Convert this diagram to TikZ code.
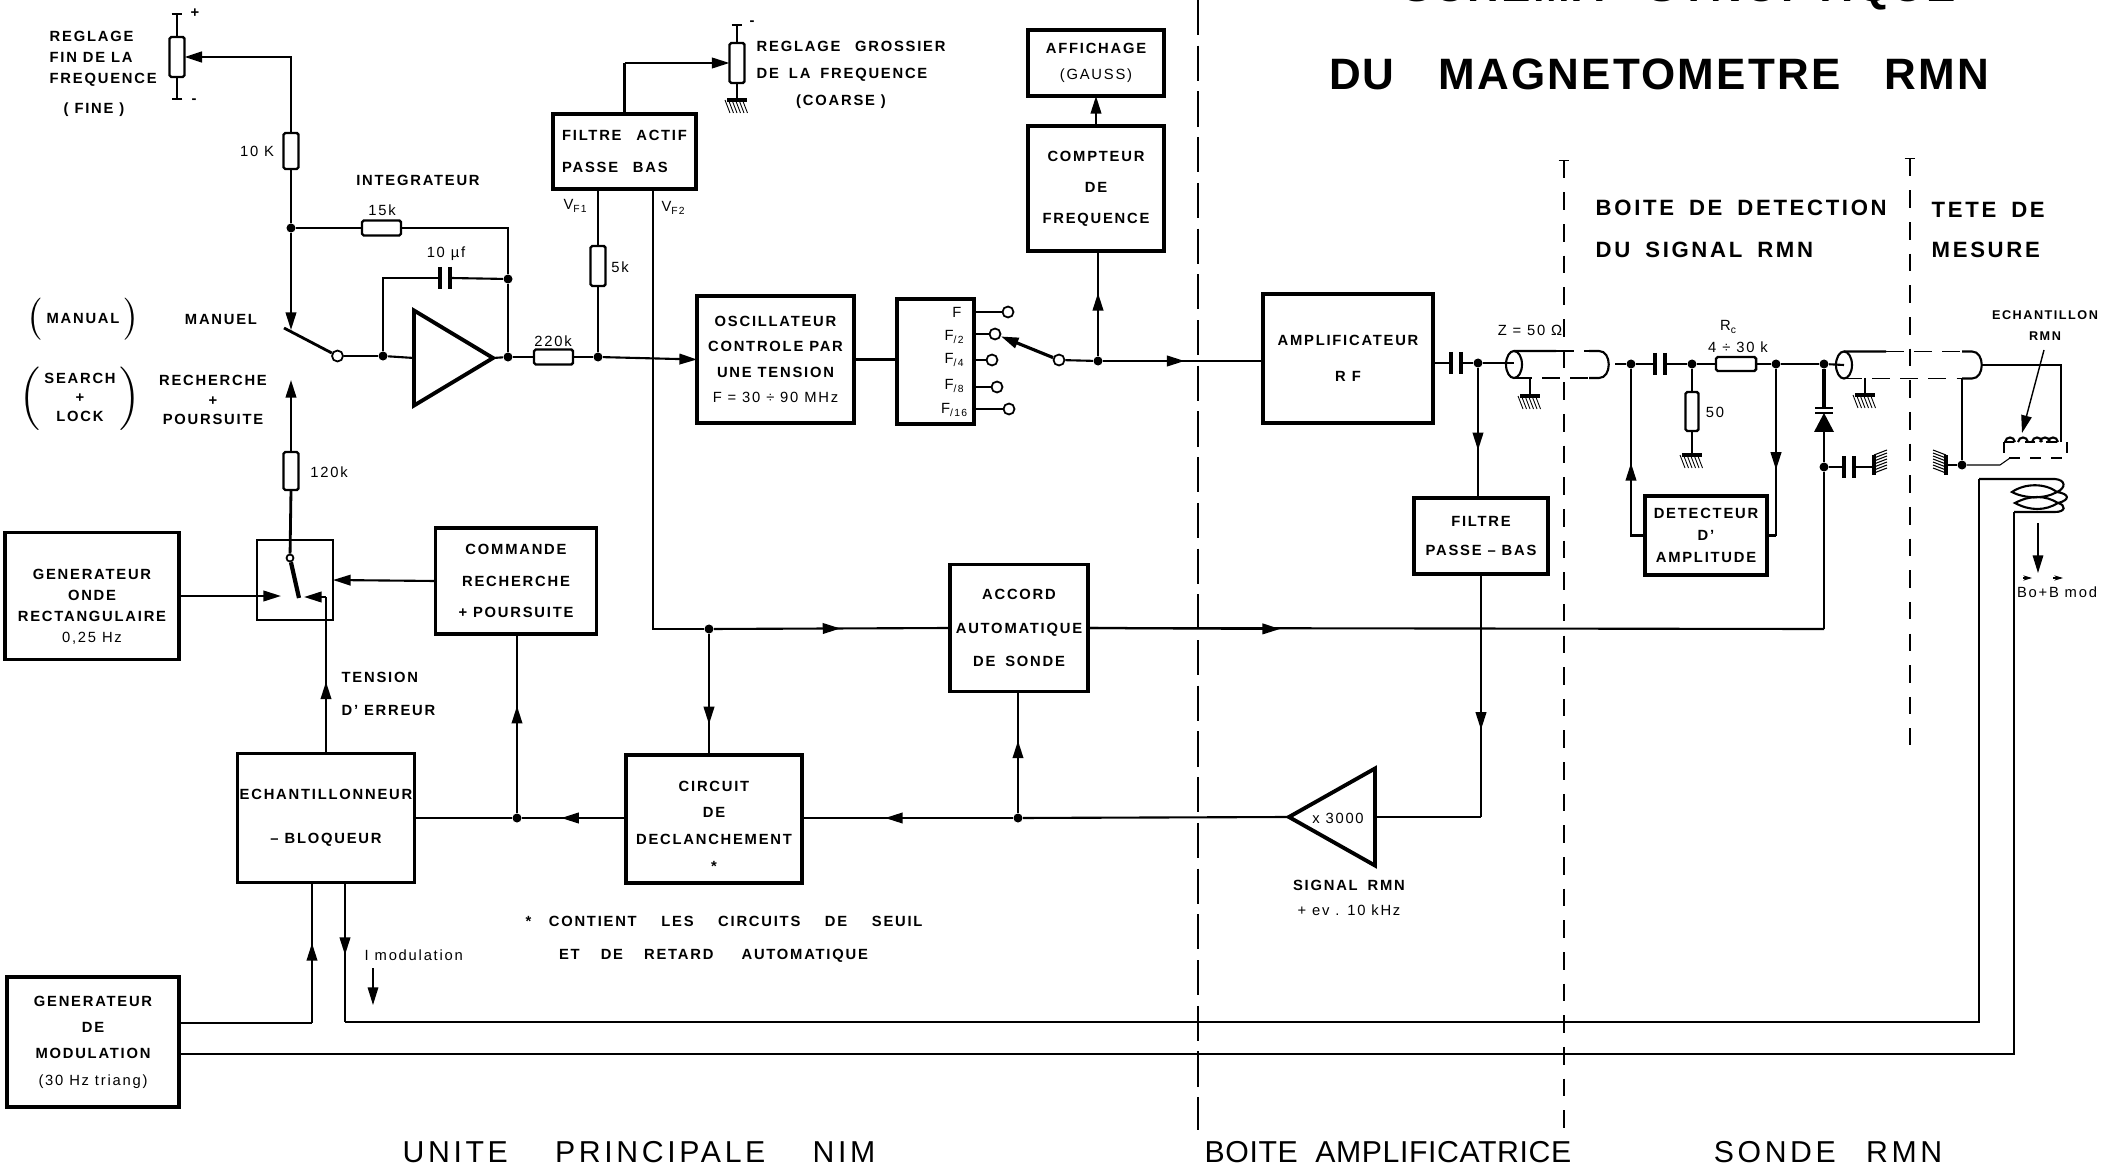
\documentclass[tikz,border=0pt]{standalone}
\usepackage{fontspec}
\setmainfont{Liberation Sans}[LetterSpace=12]
\usetikzlibrary{arrows.meta,shapes.geometric,decorations.markings}
\newcommand{\ft}[1]{\fontsize{4.2}{#1}\selectfont}
\newcommand{\gnd}[2]{\draw[line width=1pt] (#1-10,#2)--(#1+10,#2);
  \foreach \i in {-10,-6.5,...,10} \draw[line width=.25pt] (#1+\i-2,#2)--(#1+\i+3,#2+13);}
\newcommand{\gndside}[3]{\draw[line width=1pt] (#1,#2-10)--(#1,#2+10);
  \foreach \i in {-10,-7,...,10} \draw[line width=.3pt] (#1,#2+\i)--(#1+#3,#2+\i-5);}
\newcommand{\caph}[3]{\coordinate (#1l) at (#2-6,#3); \coordinate (#1r) at (#2+6,#3);
  \draw[line width=1.2pt] (#2-5,#3-11)--(#2-5,#3+11) (#2+5,#3-11)--(#2+5,#3+11);}
\newcommand{\coax}[3]{\draw[wr] (#1,#3) ellipse [x radius=8,y radius=13.5];
  \draw[wr] (#1,#3-13.5)--(#1+42,#3-13.5) (#2-20,#3-13.5)--(#2-10,#3-13.5)
    .. controls (#2+3,#3-13.5) and (#2+3,#3+13.5) .. (#2-10,#3+13.5)--(#2-20,#3+13.5);
  \draw[line width=.45pt,dash pattern=on 5pt off 3pt] (#1+42,#3-13.5)--(#2-20,#3-13.5) (#1,#3+13.5)--(#2-20,#3+13.5);}
\tikzset{mid/.style={postaction={decorate,decoration={markings,mark=at position #1 with {\arrow{>}}}}}}
\begin{document}
\begin{tikzpicture}[x=0.01cm,y=-0.01cm,>={Stealth[length=5pt,width=3pt,inset=0pt]},font=\ft{8}\bfseries]
\tikzstyle{wr}=[line width=.6pt]
\tikzstyle{bl}=[draw,line width=1.1pt,align=center,inner sep=0,outer sep=0]
\tikzstyle{res}=[draw,line width=.7pt,rounded corners=.5pt,inner sep=0,outer sep=0]
\tikzstyle{jn}=[circle,fill,inner sep=0,minimum size=.09cm]
\tikzstyle{ot}=[circle,draw,line width=.5pt,fill=white,inner sep=0,minimum size=.11cm]
\tikzstyle{val}=[font=\ft{8}\mdseries]
\tikzstyle{big}=[font=\fontsize{8.6}{10}\selectfont]
\tikzstyle{mdt}=[inner sep=0,font=\fontsize{6.3}{7}\selectfont\bfseries]
\tikzstyle{sep}=[line width=.3pt,dash pattern=on 5pt off 4pt]
\useasboundingbox (0,0) rectangle (2111,1176);
% titles
\node[font=\fontsize{12.5}{14}\selectfont\bfseries\addfontfeature{LetterSpace=5}] (ti1) at (1679,-10) {SCHEMA\quad SYNOPTIQUE};
\node[font=\fontsize{12.5}{14}\selectfont\bfseries\addfontfeature{LetterSpace=5}] (ti2) at (1659,74) {DU\quad MAGNETOMETRE\quad RMN};
\node[big] (un1) at (639,1152) {UNITE\quad\, PRINCIPALE\quad\, NIM};
\node[big,font=\fontsize{8.6}{10}\selectfont\addfontfeature{LetterSpace=2}] (un2) at (1388,1152) {BOITE\; AMPLIFICATRICE};
\node[big] (un3) at (1828,1152) {SONDE\quad RMN};
\node[mdt,anchor=west] (bo1) at (1595,208) {BOITE\; DE\; DETECTION};
\node[mdt,anchor=west] (bo2) at (1595,250) {DU\; SIGNAL\; RMN};
\node[mdt,anchor=west] (te1) at (1931,210) {TETE\; DE};
\node[mdt,anchor=west] (te2) at (1931,250) {MESURE};
% separators
\draw[line width=.5pt,dash pattern=on 10pt off 3pt] (1198,0)--(1198,1130);
\draw[sep,{Bar[width=3pt]}-] (1564,160)--(1564,1131);
\draw[sep,{Bar[width=3pt]}-] (1910,158)--(1910,745);
% blocks
\node[bl,minimum width=1.74cm,minimum height=1.27cm,font=\ft{6}\bfseries] (gen) at (92,596) {\rule{0pt}{9.2pt}GENERATEUR\\ONDE\\RECTANGULAIRE\\\mdseries 0,25 Hz};
\node[bl,minimum width=1.72cm,minimum height=1.30cm,font=\ft{7.5}\bfseries] (mod) at (93,1042) {GENERATEUR\\DE\\MODULATION\\\mdseries (30 Hz triang)};
\node[bl,line width=.6pt,minimum width=.76cm,minimum height=.80cm] (swb) at (295,580) {};
\node[bl,minimum width=1.61cm,minimum height=1.06cm,font=\ft{9}\bfseries] (com) at (516,581) {COMMANDE\\RECHERCHE\\+ POURSUITE};
\node[bl,minimum width=1.77cm,minimum height=1.29cm,font=\ft{12.5}\bfseries] (ech) at (326,818) {ECHANTILLONNEUR\\-- BLOQUEUR};
\node[bl,minimum width=1.76cm,minimum height=1.28cm,font=\ft{7.6}\bfseries] (cir) at (714,819) {\rule{0pt}{7pt}CIRCUIT\\DE\\DECLANCHEMENT\\*};
\node[bl,minimum width=1.38cm,minimum height=1.27cm,font=\ft{9.5}\bfseries] (acc) at (1019,628) {ACCORD\\AUTOMATIQUE\\DE\; SONDE};
\node[bl,minimum width=1.43cm,minimum height=.75cm,align=left,font=\ft{9.3}\bfseries] (fil) at (624.5,151.5) {FILTRE\quad ACTIF\\PASSE\quad BAS};
\node[bl,minimum width=1.57cm,minimum height=1.27cm,font=\ft{7.2}\bfseries] (osc) at (775.5,359.5) {OSCILLATEUR\\CONTROLE PAR\\UNE TENSION\\\mdseries F = 30 ÷ 90 MHz};
\node[bl,minimum width=.77cm,minimum height=1.25cm] (div) at (935.5,361.5) {};
\node[bl,minimum width=1.36cm,minimum height=.66cm,font=\ft{7.6}\bfseries] (aff) at (1096,63) {AFFICHAGE\\\mdseries(GAUSS)};
\node[bl,minimum width=1.36cm,minimum height=1.25cm,font=\ft{8.8}\bfseries] (cpt) at (1096,188.5) {COMPTEUR\\DE\\FREQUENCE};
\node[bl,minimum width=1.70cm,minimum height=1.29cm,font=\ft{10.2}\bfseries] (rfa) at (1348,358.5) {AMPLIFICATEUR\\R F};
\node[bl,minimum width=1.34cm,minimum height=.76cm,font=\ft{8.2}\bfseries] (pbs) at (1481,536) {FILTRE\\PASSE -- BAS};
\node[bl,minimum width=1.22cm,minimum height=.79cm,font=\ft{6.2}\bfseries] (det) at (1706,535.5) {DETECTEUR\\D'\\AMPLITUDE};
\node[isosceles triangle,isosceles triangle stretches,shape border rotate=0,draw,line width=1.1pt,inner sep=0,outer sep=0,minimum width=.95cm,minimum height=.79cm,anchor=lower side] (amp) at (414,358) {};
\node[isosceles triangle,isosceles triangle stretches,shape border rotate=180,draw,line width=1.1pt,inner sep=0,outer sep=0,minimum width=.97cm,minimum height=.86cm,anchor=lower side] (tri) at (1375,817) {};
\node[val] (x3k) at (1338,818) {x 3000};
% resistors
\node[res,minimum width=.15cm,minimum height=.40cm] (pot1) at (177,57) {};
\node[res,minimum width=.15cm,minimum height=.40cm] (pot2) at (737,63) {};
\node[res,minimum width=.15cm,minimum height=.36cm] (r10) at (291,151) {};
\node[res,minimum width=.39cm,minimum height=.15cm] (r15) at (381.5,228) {};
\node[res,minimum width=.39cm,minimum height=.15cm] (r220) at (553.5,357) {};
\node[res,minimum width=.15cm,minimum height=.40cm] (r5) at (598,266) {};
\node[res,minimum width=.15cm,minimum height=.38cm] (r120) at (291,471) {};
\node[res,minimum width=.40cm,minimum height=.14cm] (rc) at (1736,364) {};
\node[res,minimum width=.13cm,minimum height=.39cm] (r50) at (1692,411.5) {};
% junctions
\node[jn] (j1) at (291,228) {};
\node[jn] (j2) at (383,356) {};
\node[jn] (j3) at (508,279) {};
\node[jn] (j4) at (508,357) {};
\node[jn] (j5) at (598,357) {};
\node[jn] (j6) at (709,629) {};
\node[jn] (j7) at (517,818) {};
\node[jn] (j8) at (1018,818) {};
\node[jn] (j9) at (1098,361) {};
\node[jn] (j10) at (1478,363) {};
\node[jn] (j11) at (1631,364) {};
\node[jn] (j12) at (1692,364) {};
\node[jn] (j13) at (1776,364) {};
\node[jn] (j14) at (1824,364) {};
\node[jn] (j15) at (1824,467) {};
\node[jn] (j16) at (1962,465) {};
% switches and outputs
\node[ot] (swc) at (337.5,356) {};
\node[ot,minimum size=.07cm] (swo) at (290,558) {};
\node[ot] (o1) at (1008,312) {};
\node[ot] (o2) at (995,334) {};
\node[ot] (o3) at (992,360) {};
\node[ot] (o4) at (997,387) {};
\node[ot] (o5) at (1009,409) {};
\node[ot] (sel) at (1059,360) {};
\coordinate (swa) at (291,330); \coordinate (swb1) at (284,328);
\coordinate (swb2) at (299,598); \coordinate (ein) at (281,597); \coordinate (ein2) at (304,597);
\coordinate (up) at (291,380); \coordinate (vf2) at (653,189);
\coordinate (p1t) at (177,13); \coordinate (p1b) at (177,100);
\coordinate (p2t) at (737,24); \coordinate (p2b) at (737,100);
\coordinate (md1) at (179,1023); \coordinate (md2) at (179,1054);
\coordinate (k1) at (312,1023); \coordinate (e1) at (312,883);
\coordinate (k2) at (345,1022); \coordinate (e2) at (345,883);
\coordinate (k3) at (1979,1022); \coordinate (k4) at (1979,479);
\coordinate (k5) at (2014,1054); \coordinate (k6) at (2014,512);
\coordinate (im1) at (373,968); \coordinate (im2) at (373,1005);
% integrator
\draw[wr,-{Bar[width=3pt]}] (pot1.north)--(p1t); \draw[wr,-{Bar[width=3pt]}] (pot1.south)--(p1b);
\draw[wr,line width=.8pt,->] (r10.north) |- (pot1.east);
\draw[wr] (j1)--(r10.south); \draw[wr,->] (j1)--(swa);
\draw[wr,line width=.8pt] (swb1)--(swc);
\draw[wr] (swc)--(j2); \draw[wr] (j2)--(amp.lower side);
\draw[wr] (amp.apex)--(j4); \draw[wr] (j4)--(r220.west); \draw[wr] (r220.east)--(j5); \draw[wr,->] (j5)--(osc.west);
\draw[wr] (j1)--(r15.west); \draw[wr] (r15.east) -| (j3); \draw[wr] (j3)--(j4);
\caph{c10}{445}{278}
\draw[wr] (j2) |- (c10l); \draw[wr] (c10r)--(j3);
\draw[wr] (j5)--(r5.south); \draw[wr] (r5.north)--(r5.north |- fil.south);
\draw[wr] (fil.north) |- (fil.north |- pot2.west); \draw[wr,->] (fil.north |- pot2.west)--(pot2.west);
\draw[wr,-{Bar[width=3pt]}] (pot2.north)--(p2t); \draw[wr] (pot2.south)--(p2b); \gnd{737}{100}
% search and lock
\draw[wr,->] (r120.north)--(up); \draw[wr,line width=.8pt] (r120.south)--(swo); \draw[line width=1.2pt] (swo)--(swb2);
\draw[wr,->] (gen.east)--(gen.east -| ein); \draw[wr,->] (com.west)--(swb.east);
\draw[wr,mid=.459] (ech.north)--(ech.north |- ein2); \draw[wr,->] (ech.north |- ein2)--(ein2);
\draw[wr,mid=.598] (j7)--(j7 |- com.south); \draw[wr] (j7)--(ech.east); \draw[wr,mid=.624] (cir.west |- j7)--(j7);
\draw[wr] (vf2) |- (j6); \draw[wr,mid=.535] (j6)--(acc.west);
\draw[wr,mid=.746] (j6)--(j6 |- cir.north);
\draw[wr,mid=.606] (j8)--(cir.east |- j8); \draw[wr,mid=.595] (j8)--(j8 |- acc.south);
\draw[wr] (tri.apex)--(j8);
\draw[wr,mid=.571] (k1)--(e1); \draw[wr] (md1)--(k1);
\draw[wr,mid=.518] (e2)--(k2); \draw[wr] (k2)--(k3)--(k4);
\draw[wr] (md2)--(md2 -| k5)--(k6);
\draw[line width=.4pt,->] (im1)--(im2);
% oscillator to amplifier
\draw[wr] (osc.east)--(osc.east -| div.west);
\foreach \o in {o1,o2,o3,o4,o5} \draw[wr] (\o.west -| div.east)--(\o);
\draw[wr,line width=.9pt,->] (sel)--(o2);
\draw[wr] (sel)--(j9); \draw[wr,mid=.509] (j9)--(rfa.west |- j9);
\draw[wr,mid=.6] (j9)--(j9 |- cpt.south); \draw[wr,->] (cpt.north)--(aff.south);
% probe line
\caph{c1}{1456}{363}
\coordinate (rf1) at (1433,363); \coordinate (cx1) at (1514,363); \coordinate (cx1e) at (1615,364);
\coordinate (cx2) at (1844,365); \coordinate (cx2e) at (1982,365);
\coordinate (g1) at (1530,378); \coordinate (g2) at (1865,378); \coordinate (g3) at (1962,378);
\draw[wr] (rf1)--(c1l); \draw[wr] (c1r)--(j10); \draw[wr] (j10)--(cx1);
\coax{1514}{1609}{364.5}
\draw[wr] (g1)--(1530,396); \gnd{1530}{396}
\draw[wr,mid=.632] (j10)--(j10 |- pbs.north);
\draw[wr,mid=.641] (pbs.south)--(pbs.south |- tri.east);
\draw[wr] (pbs.south |- tri.east)--(tri.east |- tri.lower side);
\caph{c2}{1660}{364}
\draw[wr] (cx1e)--(j11); \draw[wr] (j11)--(c2l); \draw[wr] (c2r)--(j12); \draw[wr] (j12)--(rc.west); \draw[wr] (rc.east)--(j13); \draw[wr] (j13)--(j14); \draw[wr] (j14)--(cx2);
\draw[wr] (j12)--(r50.north); \draw[wr] (r50.south)--(1692,455); \gnd{1692}{455}
\draw[wr,mid=.605] (j13)--(j13 |- det.east); \draw[wr] (j13 |- det.east)--(det.east);
\draw[wr] (det.west)-|(j11);
\draw[wr,->] (j11 |- det.west)--(1631,463);
\coax{1844}{1982}{365}
\draw[wr] (g2)--(1865,395); \gnd{1865}{395}
% varicap
\draw[wr,line width=.9pt] (j14)--(1824,408);
\draw[wr] (1815,408)--(1833,408) (1815,413)--(1833,413);
\fill (1824,413)--(1814,432)--(1834,432)--cycle;
\draw[wr,line width=.8pt] (1824,432)--(j15); \draw[wr,line width=.8pt] (j15)--(1824,629);
\draw[wr] (acc.east)--(1824,629);
\draw[wr,->] (acc.east)--(1280,629);
\caph{c3}{1849}{467}
\draw[wr] (j15)--(c3l); \draw[wr] (c3r)--(1874,467); \gndside{1874}{465}{13}
% sample and coils
\draw[wr] (cx2e)--(2061,365)--(2061,442);
\draw[wr] (g3)--(j16); \gndside{1946}{465}{-13}
\draw[line width=.3pt] (1946,465)--(j16);
\draw[line width=.3pt] (j16)--(2000,465)--(2010,458);
\draw[line width=.3pt,dashed] (2004,442) rectangle (2067,458);
\foreach \a in {2010,2023,2037,2045,2053} \draw[wr] (\a-5,442) .. controls (\a-4,436) and (\a+4,436) .. (\a+5,442);
\draw[wr] (k4)--(2055,479) .. controls (2066,480) and (2066,488) .. (2057,492)
  .. controls (2070,494) and (2070,500) .. (2058,503) .. controls (2066,505) and (2066,512) .. (2055,512)--(k6);
\draw[wr] (2012,492) .. controls (2025,483) and (2045,483) .. (2057,492) .. controls (2045,499) and (2025,499) .. cycle;
\draw[wr] (2015,503) .. controls (2030,495) and (2045,495) .. (2058,503) .. controls (2045,511) and (2030,511) .. cycle;
\coordinate (bo) at (2038,523); \coordinate (bo2) at (2038,573);
\draw[line width=.4pt,->] (bo)--(bo2);
\node[font=\ft{8}\mdseries] (bm) at (2057,592) {Bo+B mod};
\draw[line width=.3pt,-{Stealth[length=2.5pt,width=1.5pt]}] (2023,578)--(2032,578);
\draw[line width=.3pt,-{Stealth[length=2.5pt,width=1.5pt]}] (2053,578)--(2063,578);
% labels
\node[font=\ft{8}\bfseries] (lp) at (195,13) {+};
\node (lm) at (194,101) {-};
\node (lm2) at (752,23) {-};
\node[anchor=west,inner sep=0,font=\ft{6}\bfseries,align=left] (rf) at (49,59) {REGLAGE\\FIN DE LA\\FREQUENCE};
\node (rff) at (94,110) {( FINE )};
\node[anchor=west,inner sep=0,align=left,font=\ft{7.6}\bfseries] (rg) at (756,61) {REGLAGE\quad GROSSIER\\DE\; LA\; FREQUENCE};
\node (rgc) at (841,102) {(COARSE )};
\node[val] (l10) at (257,151) {10 K};
\node[val] (l15) at (382,210) {15k};
\node (lint) at (418,180) {INTEGRATEUR};
\node[val] (lc10) at (446,254) {10 µf};
\node[val] (l220) at (553,341) {220k};
\node[val] (l5) at (620,267) {5k};
\node[val] (l120) at (329,472) {120k};
\node[val] (lv1) at (576,206) {V\textsubscript{F1}};
\node[val] (lv2) at (674,208) {V\textsubscript{F2}};
\node (lma) at (83,319) {$\left(\rule{0pt}{.2cm}\right.$MANUAL$\left.\rule{0pt}{.2cm}\right)$};
\node (lmn) at (221,319) {MANUEL};
\node[font=\ft{5.4}\bfseries] (lse) at (80,399) {$\left(\rule{0pt}{.32cm}\right.$\begin{tabular}{@{}c@{}}SEARCH\\+\\LOCK\end{tabular}$\left.\rule{0pt}{.32cm}\right)$};
\node[font=\ft{5.5}\bfseries,align=center] (lre) at (213,400) {RECHERCHE\\+\\POURSUITE};
\node[anchor=west,inner sep=0,align=left,font=\ft{9.3}\bfseries] (lte) at (341,694) {TENSION\\D' ERREUR};
\node[val,anchor=west,inner sep=0] (lim) at (364,955) {I modulation};
\node[font=\ft{9.5}\bfseries,align=center] (lco) at (724,939) {*\hspace{5pt}CONTIENT\hspace{7pt}LES\hspace{7pt}CIRCUITS\hspace{7pt}DE\hspace{7pt}SEUIL\\ET\hspace{6pt}DE\hspace{6pt}RETARD\hspace{8pt}AUTOMATIQUE\hspace*{6pt}};
\node (lsi) at (1349,885) {SIGNAL\; RMN};
\node[val] (lev) at (1349,910) {+ ev . 10 kHz};
\node[val] (lf1) at (957,312) {F};
\node[val] (lf2) at (955,337) {F\textsubscript{/2}};
\node[val] (lf3) at (955,360) {F\textsubscript{/4}};
\node[val] (lf4) at (955,386) {F\textsubscript{/8}};
\node[val] (lf5) at (955,410) {F\textsubscript{/16}};
\node[val] (lz) at (1530,330) {Z = 50 Ω};
\node[val] (lrc) at (1729,327) {R\textsubscript{c}};
\node[val] (lrv) at (1738,347) {4 ÷ 30 k};
\node[val] (l50) at (1715,412) {50};
\node[font=\fontsize{3.6}{6}\selectfont\bfseries,align=center] (lsa) at (2045,326) {ECHANTILLON\\RMN};
\coordinate (sm) at (2022,433);
\draw[line width=.4pt,->] (2044,350)--(sm);
\end{tikzpicture}
\end{document}
